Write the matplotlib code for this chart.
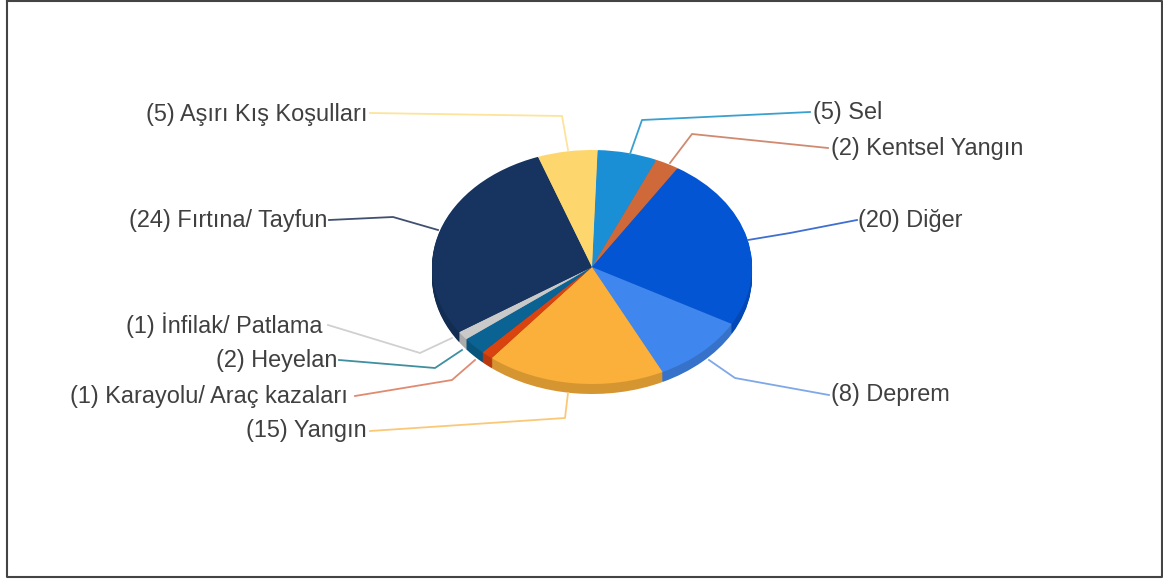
import matplotlib
matplotlib.use('Agg')
import matplotlib.pyplot as plt
from matplotlib.colors import to_rgb

plt.rcParams['font.family'] = ['Liberation Sans', 'DejaVu Sans']

# clockwise, starting just right of 12 o'clock
names = ['Sel', 'Kentsel Yangın', 'Diğer', 'Deprem', 'Yangın',
         'Karayolu/ Araç kazaları', 'Heyelan', 'İnfilak/ Patlama',
         'Fırtına/ Tayfun', 'Aşırı Kış Koşulları']
values = [5, 2, 20, 8, 15, 1, 2, 1, 24, 5]
colors = ['#1b8fd6', '#d0693a', '#0455d4', '#3f86ee', '#fbb03b',
          '#d9430f', '#0b6393', '#c9c9c9', '#16345f', '#fdd76e']
line_colors = ['#3aa0d0', '#d08a70', '#3f6fd0', '#7fa8e8', '#fbc878',
               '#e08a70', '#3f8fa0', '#d0d0d0', '#3f5070', '#fde49a']

# label anchor (pixels) and leader line for each slice
label_x = [813, 831, 858, 831, 367, 348, 337, 323, 327, 367]
label_y = [112, 148, 220, 395, 431, 396, 360, 325, 220, 114]
label_ha = ['left', 'left', 'left', 'left', 'right', 'right', 'right', 'right', 'right', 'right']
leaders = [
    [(630, 154), (642, 120), (810, 112)],
    [(670, 163), (692, 134), (828, 148)],
    [(748, 240), (790, 233), (857, 220)],
    [(709, 360), (735, 378), (829, 395)],
    [(568, 393), (565, 418), (370, 431)],
    [(475, 360), (452, 380), (355, 396)],
    [(462, 350), (435, 368), (339, 360)],
    [(452, 338), (420, 353), (328, 325)],
    [(438, 230), (393, 217), (329, 220)],
    [(568, 150), (562, 116), (370, 113)],
]

W, H = 1163, 579
cx, cy, rx, ry = 592, 267, 160, 117
depth = 10

fig = plt.figure(figsize=(W / 100, H / 100), dpi=100, facecolor='white')
ax = fig.add_axes([0, 0, 1, 1])

# side of the disc: the same pie stacked in darker colours
side = [tuple(c * 0.85 for c in to_rgb(col)) for col in colors]
for d in range(depth, 0, -1):
    ax.pie(values, colors=side, startangle=88, counterclock=False,
           center=(0, -d / ry), radius=1)
ax.pie(values, colors=colors, startangle=88, counterclock=False, center=(0, 0), radius=1)
ax.set_aspect('auto')
ax.set_xlim(-cx / rx, (W - cx) / rx)
ax.set_ylim((cy - H) / ry, cy / ry)

# overlay in pixel coordinates for labels and frame
ov = fig.add_axes([0, 0, 1, 1])
ov.set_xlim(0, W)
ov.set_ylim(H, 0)
ov.axis('off')

for i in range(len(names)):
    xs, ys = zip(*leaders[i])
    ov.plot(xs, ys, color=line_colors[i], lw=1.3)
    ov.text(label_x[i], label_y[i], '(%d) %s' % (values[i], names[i]),
            ha=label_ha[i], va='center', fontsize=16.9, color='#404040')

ov.plot([7, 1162, 1162, 7, 7], [1, 1, 577, 577, 1], color='#444444', lw=1.5)

fig.savefig('out.png', dpi=100)
